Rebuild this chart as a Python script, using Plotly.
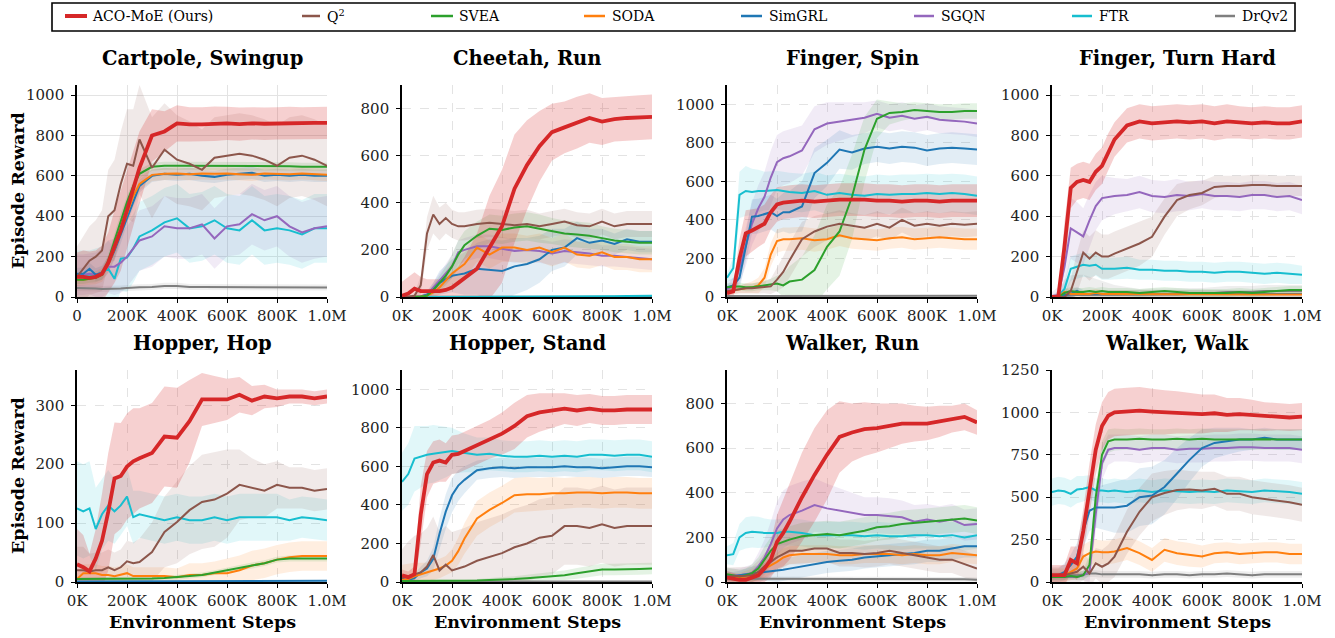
import plotly.graph_objects as go

W, H = 1335, 638
FONT = "DejaVu Serif"

# environment steps (thousands)
X_K = [0, 25, 50, 75, 100, 125, 150, 175, 200, 225, 250, 300, 350, 400, 450, 500,
       550, 600, 650, 700, 750, 800, 850, 900, 950, 1000]

METHODS = ["ACO", "Q2", "SVEA", "SODA", "SimGRL", "SGQN", "FTR", "DrQv2"]
LABELS = {"ACO": "ACO-MoE (Ours)", "Q2": "Q<sup>2</sup>", "SVEA": "SVEA", "SODA": "SODA",
          "SimGRL": "SimGRL", "SGQN": "SGQN", "FTR": "FTR", "DrQv2": "DrQv2"}
COLORS = {"ACO": (214, 39, 40), "Q2": (140, 86, 75), "SVEA": (44, 160, 44),
          "SODA": (255, 127, 14), "SimGRL": (31, 119, 180), "SGQN": (148, 103, 189),
          "FTR": (23, 190, 207), "DrQv2": (127, 127, 127)}

# ---------------- Cartpole, Swingup ----------------
CP_MEAN = {
    "ACO": [100, 100, 95, 100, 115, 170, 250, 330, 430, 540, 640, 800, 820, 860, 855, 855, 858, 860, 856, 860, 858, 860, 862, 860, 862, 862],
    "Q2": [100, 140, 180, 200, 230, 400, 430, 560, 660, 650, 780, 640, 730, 680, 660, 630, 690, 700, 710, 700, 680, 650, 690, 700, 680, 650],
    "SVEA": [85, 85, 90, 95, 110, 180, 280, 380, 470, 550, 610, 645, 650, 650, 650, 650, 648, 648, 648, 648, 648, 648, 648, 645, 645, 645],
    "SODA": [85, 85, 90, 95, 110, 160, 240, 330, 420, 500, 560, 605, 610, 612, 608, 612, 610, 612, 608, 605, 612, 610, 608, 612, 610, 605],
    "SimGRL": [115, 115, 140, 110, 120, 160, 230, 310, 400, 480, 550, 600, 610, 605, 610, 600, 595, 605, 610, 615, 600, 605, 600, 605, 600, 600],
    "SGQN": [110, 110, 115, 110, 120, 150, 150, 170, 200, 240, 280, 300, 350, 340, 340, 360, 290, 350, 360, 410, 380, 400, 350, 320, 340, 350],
    "FTR": [110, 110, 110, 110, 120, 140, 90, 190, 195, 240, 300, 330, 370, 390, 340, 350, 380, 340, 330, 380, 330, 340, 330, 310, 340, 340],
    "DrQv2": [45, 45, 42, 42, 40, 40, 42, 42, 45, 45, 48, 50, 55, 55, 50, 50, 50, 48, 48, 50, 48, 48, 48, 48, 47, 47],
}
CP_STD = {
    "ACO": [120, 130, 130, 130, 140, 150, 180, 200, 200, 190, 180, 130, 100, 90, 85, 85, 85, 82, 82, 80, 80, 80, 80, 80, 80, 80],
    "Q2": [150, 160, 170, 180, 200, 230, 250, 260, 270, 280, 270, 250, 230, 220, 210, 200, 200, 200, 200, 200, 200, 200, 200, 200, 200, 200],
    "SVEA": [20, 20, 20, 22, 25, 30, 35, 35, 30, 25, 22, 20, 20, 20, 20, 20, 20, 20, 20, 20, 20, 20, 20, 20, 20, 20],
    "SODA": [30, 30, 30, 32, 35, 40, 45, 45, 40, 35, 32, 30, 30, 30, 30, 30, 30, 30, 30, 30, 30, 30, 30, 30, 30, 30],
    "SimGRL": [30, 30, 30, 32, 35, 40, 45, 45, 40, 35, 32, 30, 30, 30, 30, 30, 30, 30, 30, 30, 30, 30, 30, 30, 30, 30],
    "SGQN": [100, 100, 100, 110, 120, 130, 140, 150, 150, 150, 150, 150, 150, 150, 150, 150, 150, 150, 150, 150, 150, 150, 150, 150, 150, 150],
    "FTR": [120, 120, 120, 130, 130, 140, 150, 160, 170, 170, 170, 170, 170, 170, 170, 170, 170, 170, 170, 170, 170, 170, 170, 170, 170, 170],
    "DrQv2": [15, 15, 15, 15, 15, 15, 15, 15, 15, 15, 15, 15, 15, 15, 15, 15, 15, 15, 15, 15, 15, 15, 15, 15, 15, 15],
}

# ---------------- Cheetah, Run ----------------
CH_MEAN = {
    "ACO": [5, 15, 35, 25, 25, 25, 25, 30, 40, 60, 80, 120, 210, 300, 460, 560, 640, 700, 720, 740, 760, 745, 755, 760, 762, 765],
    "Q2": [0, 0, 5, 50, 270, 350, 310, 335, 310, 300, 300, 310, 315, 310, 305, 310, 300, 310, 320, 305, 300, 320, 300, 310, 310, 310],
    "SVEA": [0, 0, 0, 2, 5, 30, 60, 90, 130, 180, 220, 260, 290, 285, 295, 300, 290, 280, 270, 265, 260, 250, 240, 235, 230, 230],
    "SODA": [0, 0, 0, 2, 5, 20, 40, 70, 100, 120, 140, 210, 180, 210, 210, 200, 210, 190, 210, 180, 175, 190, 170, 170, 160, 160],
    "SimGRL": [0, 0, 0, 2, 10, 30, 60, 75, 90, 95, 100, 120, 115, 110, 130, 140, 160, 200, 210, 250, 230, 240, 225, 245, 235, 235],
    "SGQN": [0, 0, 0, 2, 10, 40, 70, 100, 130, 190, 200, 215, 215, 205, 195, 200, 195, 185, 195, 190, 185, 175, 175, 170, 165, 160],
    "FTR": [0, 0, 0, 0, 0, 0, 0, 0, 0, 0, 0, 0, 0, 1, 1, 1, 1, 1, 2, 2, 2, 3, 3, 4, 4, 5],
    "DrQv2": [1, 1, 1, 1, 1, 1, 1, 1, 1, 1, 1, 1, 1, 1, 1, 1, 1, 1, 1, 1, 1, 1, 1, 1, 1, 1],
}
CH_STD = {
    "ACO": [60, 70, 70, 60, 50, 50, 50, 55, 60, 70, 90, 150, 220, 240, 230, 190, 150, 120, 110, 110, 105, 100, 95, 95, 95, 95],
    "Q2": [0, 0, 10, 40, 70, 80, 70, 65, 60, 60, 60, 60, 60, 60, 60, 60, 55, 55, 55, 55, 55, 55, 55, 55, 55, 55],
    "SVEA": [0, 0, 2, 5, 10, 20, 30, 40, 50, 60, 60, 60, 60, 60, 60, 60, 60, 55, 55, 55, 55, 50, 50, 50, 50, 50],
    "SODA": [0, 0, 2, 5, 10, 20, 30, 40, 50, 55, 60, 60, 60, 60, 60, 60, 60, 60, 60, 55, 55, 55, 55, 55, 55, 55],
    "SimGRL": [0, 0, 2, 5, 15, 30, 50, 60, 70, 80, 90, 110, 130, 130, 120, 110, 100, 90, 80, 70, 60, 50, 45, 45, 45, 45],
    "SGQN": [0, 0, 2, 5, 10, 20, 30, 40, 50, 50, 50, 50, 50, 50, 50, 50, 50, 50, 50, 50, 50, 45, 45, 45, 45, 45],
    "FTR": [0, 0, 0, 0, 0, 0, 0, 0, 0, 0, 0, 0, 1, 1, 1, 1, 2, 2, 2, 2, 3, 3, 3, 4, 4, 4],
    "DrQv2": [1, 1, 1, 1, 1, 1, 1, 1, 1, 1, 1, 1, 1, 1, 1, 1, 1, 1, 1, 1, 1, 1, 1, 1, 1, 1],
}

# ---------------- Finger, Spin ----------------
FS_MEAN = {
    "ACO": [20, 30, 200, 330, 345, 360, 380, 440, 480, 490, 495, 500, 495, 500, 505, 505, 505, 500, 500, 495, 500, 500, 495, 500, 500, 500],
    "Q2": [30, 35, 40, 45, 45, 48, 50, 55, 90, 130, 190, 300, 340, 365, 380, 370, 360, 380, 360, 400, 370, 380, 370, 380, 375, 380],
    "SVEA": [50, 55, 55, 50, 50, 55, 60, 65, 70, 60, 80, 90, 140, 260, 340, 520, 765, 925, 955, 960, 970, 965, 960, 960, 965, 965],
    "SODA": [30, 35, 40, 45, 50, 60, 100, 220, 290, 300, 300, 305, 295, 300, 320, 305, 300, 295, 305, 310, 300, 305, 310, 305, 300, 300],
    "SimGRL": [50, 60, 100, 260, 417, 420, 430, 440, 420, 440, 440, 470, 643, 696, 765, 750, 770, 780, 770, 780, 775, 760, 770, 775, 770, 765],
    "SGQN": [40, 60, 150, 260, 380, 460, 520, 620, 700, 720, 730, 760, 870, 900, 910, 920, 930, 950, 930, 940, 925, 935, 920, 915, 910, 900],
    "FTR": [100, 150, 530, 550, 545, 550, 550, 552, 555, 550, 545, 540, 550, 530, 540, 530, 525, 535, 530, 535, 535, 540, 535, 540, 535, 525],
    "DrQv2": [5, 5, 5, 5, 5, 5, 5, 5, 5, 5, 5, 5, 5, 5, 5, 5, 6, 6, 6, 6, 6, 6, 6, 6, 6, 6],
}
FS_STD = {
    "ACO": [20, 30, 100, 120, 110, 100, 100, 90, 90, 85, 85, 85, 85, 85, 85, 85, 85, 85, 85, 85, 85, 85, 85, 85, 85, 85],
    "Q2": [20, 20, 20, 25, 25, 30, 30, 40, 60, 80, 90, 90, 80, 70, 70, 65, 65, 65, 65, 65, 65, 65, 65, 65, 65, 65],
    "SVEA": [20, 20, 20, 20, 20, 20, 25, 30, 40, 60, 80, 120, 180, 220, 230, 220, 170, 100, 60, 45, 40, 40, 40, 40, 40, 40],
    "SODA": [20, 20, 20, 25, 30, 40, 50, 60, 60, 60, 60, 60, 60, 55, 55, 55, 55, 55, 55, 55, 55, 55, 55, 55, 55, 55],
    "SimGRL": [30, 40, 60, 80, 90, 90, 90, 90, 90, 100, 110, 130, 130, 120, 100, 90, 80, 80, 80, 80, 80, 80, 80, 80, 80, 80],
    "SGQN": [20, 40, 80, 100, 110, 120, 130, 140, 140, 140, 140, 130, 120, 110, 100, 90, 80, 70, 70, 70, 70, 70, 70, 70, 70, 70],
    "FTR": [20, 60, 120, 130, 120, 110, 100, 100, 100, 100, 100, 100, 100, 100, 100, 100, 100, 100, 100, 100, 100, 100, 100, 100, 100, 100],
    "DrQv2": [5, 5, 5, 5, 5, 5, 5, 5, 5, 5, 5, 5, 5, 5, 5, 5, 5, 5, 5, 5, 5, 5, 5, 5, 5, 5],
}

# ---------------- Finger, Turn Hard ----------------
FT_MEAN = {
    "ACO": [0, 0, 250, 540, 570, 580, 570, 620, 650, 720, 780, 850, 870, 860, 865, 870, 865, 870, 860, 870, 865, 860, 865, 860, 860, 870],
    "Q2": [0, 0, 0, 30, 120, 220, 190, 220, 200, 200, 215, 240, 265, 298, 398, 480, 505, 515, 545, 550, 550, 555, 555, 550, 550, 550],
    "SVEA": [0, 0, 20, 30, 25, 25, 30, 25, 30, 25, 25, 25, 20, 25, 30, 25, 20, 20, 20, 20, 25, 20, 25, 30, 35, 35],
    "SODA": [0, 0, 25, 15, 15, 15, 15, 20, 15, 15, 15, 15, 15, 15, 15, 15, 15, 12, 12, 12, 12, 12, 12, 12, 12, 12],
    "SimGRL": [0, 0, 10, 15, 30, 15, 15, 15, 15, 15, 15, 15, 15, 15, 15, 15, 15, 15, 15, 15, 15, 15, 15, 15, 15, 15],
    "SGQN": [5, 10, 150, 340, 320, 300, 380, 450, 490, 495, 500, 505, 520, 500, 495, 505, 500, 510, 500, 500, 495, 505, 505, 495, 500, 480],
    "FTR": [0, 5, 40, 140, 150, 160, 155, 160, 140, 140, 140, 145, 135, 135, 130, 130, 125, 125, 120, 125, 125, 120, 115, 120, 115, 110],
    "DrQv2": [0, 0, 5, 8, 10, 10, 10, 10, 10, 10, 10, 10, 10, 12, 12, 12, 15, 15, 20, 25, 25, 25, 30, 30, 30, 30],
}
FT_STD = {
    "ACO": [10, 20, 120, 100, 90, 90, 90, 90, 90, 90, 85, 85, 85, 85, 85, 85, 85, 85, 85, 85, 80, 80, 80, 80, 80, 80],
    "Q2": [5, 10, 20, 60, 100, 110, 110, 110, 110, 110, 110, 110, 110, 100, 90, 80, 70, 60, 55, 50, 50, 50, 50, 50, 50, 50],
    "SVEA": [5, 10, 20, 20, 20, 20, 20, 20, 20, 20, 20, 20, 20, 20, 20, 20, 20, 20, 20, 20, 20, 20, 20, 20, 20, 20],
    "SODA": [5, 10, 20, 20, 20, 20, 20, 20, 20, 20, 20, 20, 20, 20, 20, 20, 20, 20, 20, 20, 20, 20, 20, 20, 20, 20],
    "SimGRL": [5, 10, 20, 20, 20, 20, 20, 20, 20, 20, 20, 20, 20, 20, 20, 20, 20, 20, 20, 20, 20, 20, 20, 20, 20, 20],
    "SGQN": [20, 40, 100, 150, 150, 140, 130, 120, 110, 100, 90, 80, 80, 80, 80, 80, 70, 70, 70, 70, 70, 70, 70, 70, 70, 70],
    "FTR": [5, 10, 40, 60, 60, 60, 60, 55, 55, 55, 55, 55, 50, 50, 50, 50, 50, 50, 50, 50, 50, 50, 50, 50, 50, 45],
    "DrQv2": [10, 30, 80, 100, 100, 100, 90, 80, 70, 60, 50, 40, 30, 30, 30, 30, 30, 30, 30, 30, 30, 30, 30, 30, 30, 30],
}

# ---------------- Hopper, Hop ----------------
HH_MEAN = {
    "ACO": [30, 25, 18, 40, 70, 119, 176, 180, 196, 205, 210, 219, 247, 245, 273, 310, 310, 310, 318, 308, 315, 312, 315, 315, 312, 315],
    "Q2": [20, 20, 18, 20, 20, 25, 20, 25, 35, 32, 34, 51, 85, 102, 122, 136, 140, 150, 165, 160, 155, 165, 160, 160, 155, 158],
    "SVEA": [5, 5, 5, 5, 5, 5, 5, 5, 5, 5, 5, 6, 7, 8, 10, 12, 16, 20, 24, 28, 32, 38, 40, 40, 40, 40],
    "SODA": [5, 15, 15, 15, 12, 12, 10, 12, 15, 10, 10, 10, 10, 8, 12, 12, 15, 15, 20, 28, 32, 38, 42, 44, 44, 44],
    "SimGRL": [1, 1, 1, 1, 1, 1, 1, 1, 1, 1, 1, 1, 1, 1, 1, 1, 1, 1, 1, 1, 2, 2, 2, 2, 2, 2],
    "FTR": [125, 120, 125, 90, 115, 130, 120, 130, 145, 110, 115, 110, 105, 110, 105, 105, 110, 105, 110, 110, 110, 110, 105, 110, 108, 105],
}
HH_STD = {
    "ACO": [60, 55, 30, 50, 80, 100, 95, 90, 90, 90, 85, 85, 85, 85, 70, 45, 40, 35, 30, 25, 20, 15, 12, 12, 12, 12],
    "Q2": [40, 40, 30, 30, 30, 30, 30, 30, 35, 35, 40, 50, 60, 70, 75, 80, 80, 75, 60, 50, 45, 40, 35, 35, 35, 35],
    "SVEA": [3, 3, 3, 3, 3, 3, 3, 3, 3, 3, 3, 3, 3, 4, 4, 4, 4, 5, 5, 5, 5, 5, 5, 5, 5, 5],
    "SODA": [10, 15, 15, 15, 15, 15, 15, 15, 15, 15, 15, 15, 15, 15, 20, 20, 20, 25, 25, 25, 25, 25, 25, 25, 25, 25],
    "SimGRL": [1, 1, 1, 1, 1, 1, 1, 1, 1, 1, 1, 1, 1, 1, 1, 1, 1, 1, 1, 1, 1, 1, 1, 1, 1, 1],
    "FTR": [80, 80, 80, 70, 60, 60, 55, 50, 50, 45, 40, 40, 40, 40, 40, 40, 40, 40, 40, 40, 40, 40, 35, 35, 35, 35],
}

# ---------------- Hopper, Stand ----------------
HS_MEAN = {
    "ACO": [35, 25, 40, 350, 560, 620, 630, 620, 660, 665, 680, 710, 740, 770, 810, 860, 880, 890, 900, 890, 900, 890, 890, 895, 895, 895],
    "Q2": [20, 30, 40, 50, 80, 140, 60, 90, 60, 70, 80, 110, 130, 150, 180, 200, 230, 240, 290, 290, 280, 300, 280, 290, 290, 290],
    "SVEA": [5, 5, 5, 5, 5, 5, 5, 5, 5, 6, 7, 8, 10, 12, 15, 20, 25, 30, 35, 45, 55, 65, 65, 65, 68, 70],
    "SODA": [10, 15, 30, 40, 50, 60, 70, 85, 110, 160, 226, 330, 374, 410, 450, 455, 455, 460, 460, 465, 465, 460, 465, 465, 460, 460],
    "SimGRL": [15, 10, 20, 50, 70, 120, 250, 365, 450, 500, 530, 580, 590, 595, 590, 595, 595, 595, 600, 595, 595, 590, 595, 600, 600, 595],
    "FTR": [520, 560, 640, 650, 660, 665, 670, 672, 680, 675, 670, 660, 665, 655, 650, 650, 655, 650, 655, 650, 660, 660, 655, 660, 660, 650],
    "DrQv2": [2, 2, 2, 2, 2, 2, 2, 2, 2, 2, 2, 2, 2, 2, 2, 2, 2, 2, 2, 2, 2, 2, 2, 2, 2, 2],
}
HS_STD = {
    "ACO": [30, 30, 40, 150, 120, 110, 110, 100, 100, 100, 100, 100, 100, 110, 120, 110, 100, 90, 80, 80, 75, 75, 75, 75, 75, 75],
    "Q2": [150, 180, 200, 200, 200, 200, 200, 200, 200, 200, 200, 200, 200, 200, 200, 200, 200, 200, 200, 200, 200, 200, 200, 200, 200, 200],
    "SVEA": [5, 5, 5, 5, 5, 5, 5, 5, 5, 5, 5, 8, 10, 12, 15, 18, 20, 22, 25, 28, 30, 30, 30, 30, 30, 30],
    "SODA": [80, 80, 70, 60, 50, 50, 50, 50, 60, 70, 80, 90, 90, 90, 90, 90, 85, 85, 80, 80, 80, 80, 80, 80, 80, 80],
    "SimGRL": [20, 20, 20, 30, 40, 60, 80, 90, 90, 80, 70, 50, 50, 50, 50, 50, 50, 50, 50, 50, 50, 50, 50, 50, 50, 50],
    "FTR": [150, 160, 170, 160, 150, 150, 140, 130, 120, 110, 100, 90, 85, 80, 80, 80, 80, 80, 80, 80, 80, 80, 80, 80, 80, 80],
    "DrQv2": [2, 2, 2, 2, 2, 2, 2, 2, 2, 2, 2, 2, 2, 2, 2, 2, 2, 2, 2, 2, 2, 2, 2, 2, 2, 2],
}

# ---------------- Walker, Run ----------------
WR_MEAN = {
    "ACO": [20, 15, 10, 10, 20, 30, 60, 100, 180, 220, 270, 380, 480, 570, 650, 670, 685, 690, 700, 710, 710, 710, 720, 730, 740, 715],
    "Q2": [25, 25, 25, 28, 30, 45, 70, 90, 110, 125, 140, 140, 150, 150, 130, 130, 125, 130, 140, 130, 120, 110, 100, 100, 80, 60],
    "SVEA": [35, 30, 25, 30, 40, 60, 100, 140, 170, 180, 190, 205, 210, 215, 210, 220, 230, 245, 250, 260, 265, 270, 275, 280, 285, 275],
    "SODA": [20, 20, 20, 25, 30, 40, 60, 75, 90, 110, 120, 125, 125, 125, 120, 120, 125, 125, 125, 120, 125, 120, 120, 130, 125, 120],
    "SimGRL": [25, 25, 30, 35, 40, 42, 45, 48, 50, 55, 60, 70, 80, 90, 95, 100, 110, 115, 120, 125, 130, 140, 140, 150, 160, 160],
    "SGQN": [30, 30, 30, 35, 40, 70, 110, 170, 240, 280, 300, 320, 345, 330, 320, 310, 300, 300, 295, 290, 270, 280, 270, 280, 255, 260],
    "FTR": [120, 125, 200, 220, 225, 222, 220, 220, 220, 225, 225, 220, 210, 210, 210, 210, 205, 210, 205, 205, 210, 210, 205, 210, 200, 210],
    "DrQv2": [15, 15, 15, 15, 15, 15, 15, 15, 15, 15, 15, 15, 15, 15, 15, 15, 14, 14, 14, 12, 12, 12, 12, 12, 12, 10],
}
WR_STD = {
    "ACO": [30, 25, 20, 20, 30, 40, 60, 80, 120, 150, 170, 200, 210, 200, 160, 130, 120, 110, 100, 90, 80, 75, 70, 60, 60, 55],
    "Q2": [40, 40, 40, 40, 40, 50, 60, 60, 60, 60, 60, 60, 60, 60, 60, 60, 60, 60, 60, 60, 60, 60, 60, 60, 60, 60],
    "SVEA": [30, 30, 30, 30, 40, 50, 60, 60, 60, 60, 60, 60, 60, 60, 60, 60, 60, 60, 60, 60, 60, 60, 60, 60, 60, 60],
    "SODA": [20, 20, 20, 25, 30, 35, 40, 40, 40, 40, 40, 40, 40, 40, 40, 40, 40, 40, 40, 40, 40, 40, 40, 40, 40, 40],
    "SimGRL": [20, 20, 20, 25, 30, 35, 40, 45, 50, 50, 50, 50, 50, 50, 50, 50, 50, 50, 50, 50, 50, 50, 50, 50, 50, 50],
    "SGQN": [30, 30, 30, 35, 40, 60, 80, 100, 120, 130, 130, 130, 120, 110, 100, 90, 80, 80, 80, 75, 75, 70, 70, 70, 70, 70],
    "FTR": [40, 50, 60, 70, 70, 70, 65, 60, 60, 60, 60, 60, 60, 60, 60, 60, 60, 60, 60, 60, 60, 60, 60, 60, 60, 60],
    "DrQv2": [10, 10, 10, 10, 10, 10, 10, 10, 10, 10, 10, 10, 10, 10, 10, 10, 10, 10, 10, 10, 10, 10, 10, 10, 10, 10],
}

# ---------------- Walker, Walk ----------------
WW_MEAN = {
    "ACO": [40, 40, 40, 130, 110, 300, 550, 780, 920, 980, 1000, 1005, 1010, 1005, 1000, 1000, 995, 990, 995, 985, 990, 985, 975, 975, 970, 975],
    "Q2": [40, 40, 40, 50, 60, 90, 50, 110, 90, 110, 150, 296, 414, 500, 525, 543, 545, 540, 550, 520, 520, 500, 490, 480, 470, 455],
    "SVEA": [30, 30, 30, 35, 30, 40, 100, 500, 750, 830, 840, 840, 845, 840, 840, 845, 840, 845, 840, 840, 842, 840, 842, 840, 840, 840],
    "SODA": [40, 40, 40, 60, 80, 150, 170, 180, 175, 175, 180, 200, 170, 130, 190, 170, 160, 150, 170, 175, 165, 170, 175, 175, 165, 165],
    "SimGRL": [40, 40, 60, 100, 150, 300, 420, 440, 440, 440, 440, 450, 500, 510, 560, 640, 720, 790, 820, 830, 840, 840, 850, 840, 840, 840],
    "SGQN": [30, 30, 30, 30, 30, 40, 60, 400, 700, 780, 790, 790, 780, 790, 790, 780, 785, 785, 790, 790, 795, 795, 790, 790, 790, 780],
    "FTR": [530, 540, 535, 520, 545, 550, 560, 540, 540, 535, 540, 530, 540, 530, 540, 535, 530, 535, 530, 540, 535, 530, 540, 535, 530, 520],
    "DrQv2": [40, 40, 40, 40, 40, 45, 50, 50, 45, 45, 45, 45, 45, 40, 45, 45, 40, 45, 45, 50, 45, 40, 45, 45, 45, 45],
}
WW_STD = {
    "ACO": [60, 60, 60, 80, 100, 130, 150, 150, 140, 140, 140, 140, 140, 135, 130, 125, 120, 115, 110, 100, 95, 90, 85, 80, 80, 80],
    "Q2": [50, 50, 60, 60, 70, 80, 80, 90, 100, 110, 120, 130, 140, 140, 130, 120, 110, 110, 100, 100, 100, 100, 100, 100, 100, 100],
    "SVEA": [20, 20, 20, 20, 20, 30, 60, 80, 80, 70, 65, 60, 60, 60, 60, 60, 60, 60, 60, 60, 60, 60, 60, 60, 60, 60],
    "SODA": [40, 40, 40, 50, 60, 70, 70, 70, 70, 70, 70, 70, 70, 70, 70, 70, 70, 65, 60, 60, 60, 60, 60, 60, 60, 60],
    "SimGRL": [40, 40, 50, 60, 80, 100, 120, 120, 130, 140, 150, 160, 170, 170, 160, 150, 130, 110, 90, 80, 70, 60, 60, 60, 60, 60],
    "SGQN": [20, 20, 20, 20, 20, 30, 60, 100, 100, 90, 80, 80, 80, 80, 80, 80, 80, 80, 80, 80, 80, 80, 80, 80, 80, 80],
    "FTR": [80, 80, 80, 80, 80, 75, 70, 70, 70, 70, 70, 70, 70, 70, 70, 70, 70, 70, 70, 70, 70, 70, 70, 70, 70, 70],
    "DrQv2": [20, 20, 20, 20, 20, 20, 20, 20, 20, 20, 20, 20, 20, 20, 20, 20, 20, 20, 20, 20, 20, 20, 20, 20, 20, 20],
}

TITLES = ["Cartpole, Swingup", "Cheetah, Run", "Finger, Spin", "Finger, Turn Hard",
          "Hopper, Hop", "Hopper, Stand", "Walker, Run", "Walker, Walk"]
MEANS = [CP_MEAN, CH_MEAN, FS_MEAN, FT_MEAN, HH_MEAN, HS_MEAN, WR_MEAN, WW_MEAN]
STDS = [CP_STD, CH_STD, FS_STD, FT_STD, HH_STD, HS_STD, WR_STD, WW_STD]
Y_MAX = [1050, 900, 1100, 1050, 360, 1100, 950, 1250]
Y_TICKS = [[0, 200, 400, 600, 800, 1000], [0, 200, 400, 600, 800], [0, 200, 400, 600, 800, 1000],
           [0, 200, 400, 600, 800, 1000], [0, 100, 200, 300], [0, 200, 400, 600, 800, 1000],
           [0, 200, 400, 600, 800], [0, 250, 500, 750, 1000, 1250]]
X_TICKS = [0, 200, 400, 600, 800, 1000]
X_TICKTEXT = ["0K", "200K", "400K", "600K", "800K", "1.0M"]
X_TICKTEXT_FIRST = ["0", "200K", "400K", "600K", "800K", "1.0M"]

# pixel layout
COL_X = [(77, 327), (402, 652), (727, 977), (1052, 1302)]
ROW_Y = [(85, 297), (370, 582)]
TITLE_Y = [58, 343]

DRAW_ORDER = ["DrQv2", "FTR", "SGQN", "SimGRL", "SODA", "SVEA", "Q2", "ACO"]


def px(x):
    return x / W


def py(y):
    return 1 - y / H


def rgba(c, a):
    return "rgba(%d,%d,%d,%.3f)" % (c[0], c[1], c[2], a)


fig = go.Figure()
layout = {}
annotations = []
shapes = []
xs = [k * 1000 for k in X_K]

for i in range(8):
    r, c = divmod(i, 4)
    ax = "" if i == 0 else str(i + 1)
    mean, std = MEANS[i], STDS[i]
    for m in DRAW_ORDER:
        if m not in mean:
            continue
        mu, sd = mean[m], std[m]
        up = [a + b for a, b in zip(mu, sd)]
        lo = [a - b for a, b in zip(mu, sd)]
        alpha = 0.22 if m == "ACO" else 0.13
        fig.add_trace(go.Scatter(x=xs + xs[::-1], y=up + lo[::-1], fill="toself",
                                 fillcolor=rgba(COLORS[m], alpha), line=dict(width=0),
                                 mode="lines", hoverinfo="skip", showlegend=False,
                                 xaxis="x" + ax, yaxis="y" + ax))
    for m in DRAW_ORDER:
        if m not in mean:
            continue
        fig.add_trace(go.Scatter(x=xs, y=mean[m], mode="lines",
                                 line=dict(color=rgba(COLORS[m], 1), width=3.8 if m == "ACO" else 2.0),
                                 name=LABELS[m], showlegend=False,
                                 xaxis="x" + ax, yaxis="y" + ax))
    x0, x1 = COL_X[c]
    y0, y1 = ROW_Y[r]
    grid_dash = "solid" if i == 0 else "dash"
    layout["xaxis" + ax] = dict(
        domain=[px(x0), px(x1)], anchor="y" + ax, range=[0, 1000000],
        tickvals=[t * 1000 for t in X_TICKS],
        ticktext=X_TICKTEXT_FIRST if i == 0 else X_TICKTEXT,
        showline=True, linecolor="black", linewidth=1.6, ticks="outside", ticklen=4,
        tickwidth=1, tickcolor="black", showgrid=True, gridcolor="#e3e3e3",
        griddash=grid_dash, gridwidth=0.8, zeroline=False,
        tickfont=dict(family=FONT, size=15, color="#222"), automargin=False)
    layout["yaxis" + ax] = dict(
        domain=[py(y1), py(y0)], anchor="x" + ax, range=[0, Y_MAX[i]],
        tickvals=Y_TICKS[i], showline=True, linecolor="black", linewidth=1.6,
        ticks="outside", ticklen=4, tickwidth=1, tickcolor="black", showgrid=True,
        gridcolor="#e3e3e3", griddash=grid_dash, gridwidth=0.8, zeroline=False,
        ticklabelstandoff=4,
        tickfont=dict(family=FONT, size=15, color="#222"), automargin=False)
    annotations.append(dict(text="<b>%s</b>" % TITLES[i], x=px((x0 + x1) / 2), y=py(TITLE_Y[r]),
                            xref="paper", yref="paper", xanchor="center", yanchor="middle",
                            showarrow=False, font=dict(family=FONT, size=19.5, color="black")))
    if r == 1:
        annotations.append(dict(text="<b>Environment Steps</b>", x=px((x0 + x1) / 2), y=py(622),
                                xref="paper", yref="paper", xanchor="center", yanchor="middle",
                                showarrow=False, font=dict(family=FONT, size=17.5, color="black")))
    if c == 0:
        annotations.append(dict(text="<b>Episode Reward</b>", x=px(18), y=py((y0 + y1) / 2),
                                xref="paper", yref="paper", xanchor="center", yanchor="middle",
                                textangle=-90, showarrow=False,
                                font=dict(family=FONT, size=17.5, color="black")))

# legend (box across the top)
LEG_LINE_X = {"ACO": (65, 87), "Q2": (302, 320), "SVEA": (431, 453), "SODA": (584, 605),
              "SimGRL": (741, 762), "SGQN": (914, 934), "FTR": (1072, 1092), "DrQv2": (1215, 1235)}
LEG_TEXT_X = {"ACO": 90, "Q2": 325, "SVEA": 457, "SODA": 610, "SimGRL": 767, "SGQN": 939,
              "FTR": 1097, "DrQv2": 1240}
shapes.append(dict(type="rect", xref="paper", yref="paper", x0=px(52), x1=px(1295),
                   y0=py(31), y1=py(3), line=dict(color="black", width=1.6),
                   fillcolor="white", layer="above"))
for m in METHODS:
    lx0, lx1 = LEG_LINE_X[m]
    shapes.append(dict(type="line", xref="paper", yref="paper", x0=px(lx0), x1=px(lx1),
                       y0=py(16), y1=py(16), layer="above",
                       line=dict(color=rgba(COLORS[m], 1), width=4 if m == "ACO" else 2.5)))
    annotations.append(dict(text=LABELS[m], x=px(LEG_TEXT_X[m]), y=py(16.5), xref="paper",
                            yref="paper", xanchor="left", yanchor="middle", showarrow=False,
                            font=dict(family=FONT, size=14, color="black")))

layout.update(dict(width=W, height=H, margin=dict(l=0, r=0, t=0, b=0),
                   paper_bgcolor="white", plot_bgcolor="white", showlegend=False,
                   annotations=annotations, shapes=shapes,
                   font=dict(family=FONT, size=14, color="black")))
fig.update_layout(**layout)
fig.write_html("out.html")
